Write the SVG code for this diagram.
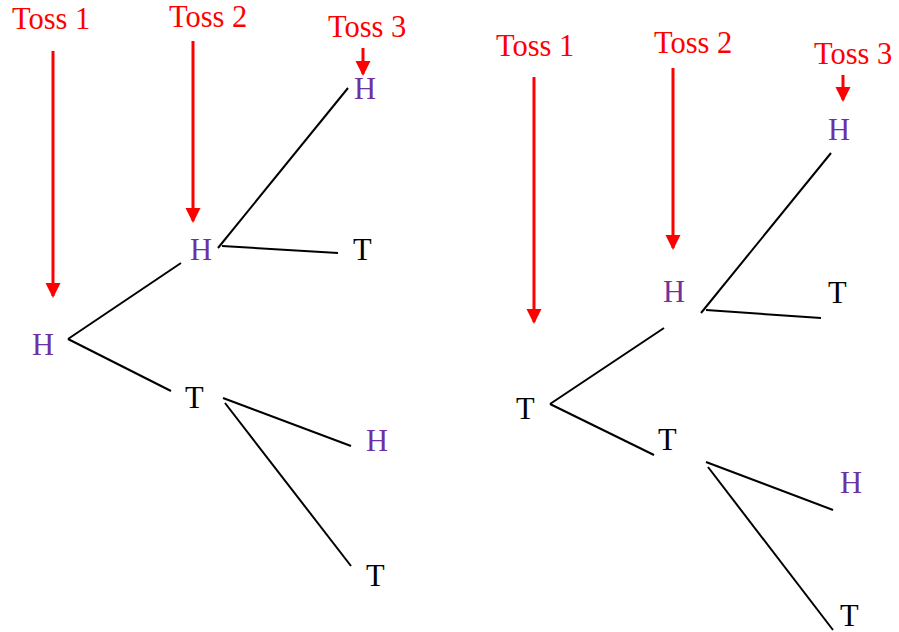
<svg xmlns="http://www.w3.org/2000/svg" width="899" height="632" viewBox="0 0 899 632">
<style>
text{font-family:"Liberation Serif","Times New Roman",serif;font-size:30.5px}
.lbl{fill:#FF0000}
.h{fill:#7030A0}
.t{fill:#000000}
.edge{stroke:#000;stroke-width:2;fill:none}
.arr{stroke:#FF0000;stroke-width:3;fill:none;marker-end:url(#ah)}
</style>
<defs>
<marker id="ah" markerUnits="userSpaceOnUse" markerWidth="16" markerHeight="16" viewBox="0 0 16 16" refX="13" refY="7.5" orient="auto">
<path d="M0,0 L15,7.5 L0,15 z" fill="#FF0000"/>
</marker>
</defs>
<rect width="899" height="632" fill="#fff"/>
<g id="connectors">
<line class="arr" x1="53" y1="51" x2="53" y2="296"/>
<line class="arr" x1="193" y1="41" x2="193" y2="221"/>
<line class="arr" x1="363" y1="48" x2="363" y2="74"/>
<line class="arr" x1="534" y1="77" x2="534" y2="322"/>
<line class="arr" x1="673" y1="68" x2="673" y2="248"/>
<line class="arr" x1="843" y1="75" x2="843" y2="100"/>
<line class="edge" x1="68" y1="339" x2="181" y2="263"/>
<line class="edge" x1="68" y1="339" x2="171" y2="391"/>
<line class="edge" x1="218" y1="248" x2="348" y2="88"/>
<line class="edge" x1="222" y1="246" x2="338" y2="253"/>
<line class="edge" x1="223" y1="398" x2="351" y2="446"/>
<line class="edge" x1="225" y1="403" x2="351" y2="566"/>
<line class="edge" x1="550" y1="404" x2="664" y2="328"/>
<line class="edge" x1="550" y1="404" x2="654" y2="455"/>
<line class="edge" x1="701" y1="313" x2="831" y2="153"/>
<line class="edge" x1="706" y1="310" x2="821" y2="318"/>
<line class="edge" x1="706" y1="462" x2="833" y2="510"/>
<line class="edge" x1="708" y1="467" x2="833" y2="630"/>
</g>
<g id="labels-left">
<text class="lbl" x="12" y="29">Toss 1</text>
<text class="lbl" x="169" y="27">Toss 2</text>
<text class="lbl" x="328" y="37">Toss 3</text>
</g>
<g id="labels-right">
<text class="lbl" x="496" y="56">Toss 1</text>
<text class="lbl" x="654" y="53">Toss 2</text>
<text class="lbl" x="814" y="64">Toss 3</text>
</g>
<g id="L-root"><text class="h" x="32" y="355">H</text></g>
<g id="L-H"><text class="h" x="190" y="260">H</text></g>
<g id="L-T"><text class="t" x="185" y="408">T</text></g>
<g id="L-HH"><text class="h" x="354" y="99">H</text></g>
<g id="L-HT"><text class="t" x="353" y="260">T</text></g>
<g id="L-TH"><text class="h" x="366" y="451">H</text></g>
<g id="L-TT"><text class="t" x="366" y="586">T</text></g>
<g id="R-root"><text class="t" x="516" y="419">T</text></g>
<g id="R-H"><text class="h" x="663" y="302">H</text></g>
<g id="R-T"><text class="t" x="658" y="450">T</text></g>
<g id="R-HH"><text class="h" x="828" y="140">H</text></g>
<g id="R-HT"><text class="t" x="828" y="303">T</text></g>
<g id="R-TH"><text class="h" x="840" y="493">H</text></g>
<g id="R-TT"><text class="t" x="840" y="626">T</text></g>
</svg>
